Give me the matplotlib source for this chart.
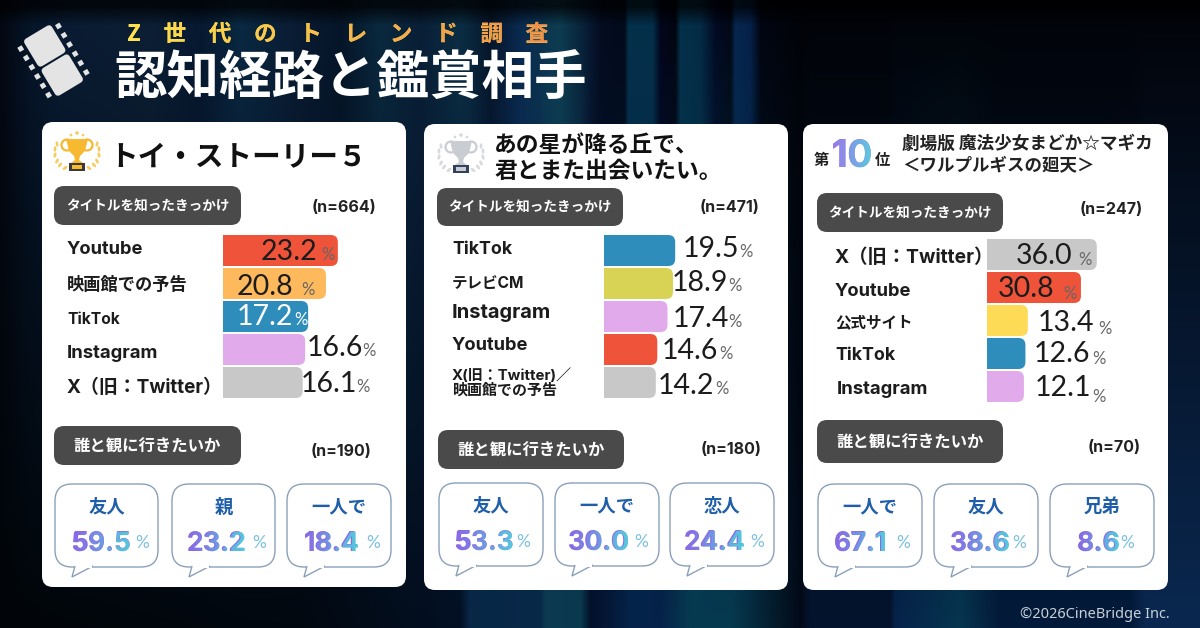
import numpy as np
from matplotlib import pyplot as plt
from matplotlib.font_manager import FontProperties
from matplotlib.patches import Circle, Ellipse, FancyBboxPatch, Polygon, Rectangle
from matplotlib.textpath import TextPath
from matplotlib.transforms import Affine2D
from matplotlib.colors import to_rgb

JP = ["Noto Sans CJK JP", "DejaVu Sans"]
LATIN = ["Inter", "Noto Sans CJK JP", "DejaVu Sans"]
NUM = ["Lato", "DejaVu Sans"]

RED, ORANGE, BLUE = "#ef5339", "#fdb95c", "#2e8dbb"
LILAC, GREY, OLIVE, YELLOW = "#e1aaeb", "#c8c8c8", "#d8d255", "#fedb56"
DARK = "#1c1c1c"

# panel 1
labels1 = ["Youtube", "映画館での予告", "TikTok", "Instagram", "X（旧：Twitter）"]
values1 = [23.2, 20.8, 17.2, 16.6, 16.1]
colors1 = [RED, ORANGE, BLUE, LILAC, GREY]
who1 = ["友人", "親", "一人で"]
who_values1 = [59.5, 23.2, 18.4]

# panel 2
labels2 = ["TikTok", "テレビCM", "Instagram", "Youtube", "X(旧：Twitter)／\n映画館での予告"]
values2 = [19.5, 18.9, 17.4, 14.6, 14.2]
colors2 = [BLUE, OLIVE, LILAC, RED, GREY]
who2 = ["友人", "一人で", "恋人"]
who_values2 = [53.3, 30.0, 24.4]

# panel 3
labels3 = ["X（旧：Twitter）", "Youtube", "公式サイト", "TikTok", "Instagram"]
values3 = [36.0, 30.8, 13.4, 12.6, 12.1]
colors3 = [GREY, RED, YELLOW, BLUE, LILAC]
who3 = ["一人で", "友人", "兄弟"]
who_values3 = [67.1, 38.6, 8.6]

sample_sizes = ["(n=664)", "(n=190)", "(n=471)", "(n=180)", "(n=247)", "(n=70)"]

# background, colour anchors across the width at the top and at the bottom
top_x = [0, 30, 60, 150, 200, 240, 300, 340, 380, 420, 460, 490, 520, 560, 590, 600, 624, 628, 652, 660,
         675, 680, 700, 715, 730, 735, 750, 760, 800, 1200]
top_c = ["#030812", "#06162a", "#0a1c34", "#0c2036", "#071a33", "#0a2a44", "#0a1c34", "#06162a", "#0a2a40",
         "#0a2038", "#0b2f45", "#061428", "#0a2a50", "#0d3c50", "#071830", "#040c20", "#020a18", "#04304a",
         "#04304a", "#02051a", "#02040e", "#04304a", "#042a44", "#020822", "#020612", "#06264e", "#06204a",
         "#010410", "#010308", "#020308"]
bot_x = [0, 300, 460, 470, 540, 545, 580, 590, 630, 660, 690, 730, 800, 810, 890, 895, 960, 1000, 1130, 1145, 1200]
bot_c = ["#010509", "#020810", "#031024", "#082848", "#082848", "#0a3a50", "#0a3a50", "#03102a", "#05234a",
         "#05234a", "#063a50", "#063a50", "#020a18", "#04142e", "#04142e", "#05234a", "#063550", "#031a3a",
         "#031a3a", "#0a2850", "#0a2850"]


def channels(xs, cols):
    rgb = np.array([to_rgb(c) for c in cols])
    grid = np.arange(1200)
    return np.stack([np.interp(grid, xs, rgb[:, i]) for i in range(3)], axis=1)


def draw_background(ax):
    top = channels(top_x, top_c)
    bot = channels(bot_x, bot_c)
    t = (np.arange(628) / 627.0)[:, None, None]
    fade = np.clip(np.arange(628) / 25.0, 0.25, 1)[:, None, None]
    img = (top[None, :, :] * (1 - t) + bot[None, :, :] * t) * fade
    ax.imshow(img, extent=(0, 1200, 628, 0), aspect="auto", zorder=0)


def rounded(ax, x0, y0, x1, y1, r, fc, ec="none", lw=0, zorder=2):
    p = FancyBboxPatch((x0, y0), x1 - x0, y1 - y0, boxstyle=f"round,pad=0,rounding_size={r}",
                       fc=fc, ec=ec, lw=lw, zorder=zorder)
    ax.add_patch(p)
    return p


def gradient_text(ax, x, y, s, size, left, right, family=LATIN, weight="bold"):
    # real text first, the gradient goes on top of it clipped to the glyph outlines
    fp = FontProperties(family=family, weight=weight)
    ax.text(x, y, s, fontsize=size, family=family, weight=weight, ha="left", va="baseline",
            color=left, zorder=5)
    path = TextPath((0, 0), s, size=size / 0.72, prop=fp)
    box = path.get_extents()
    n = 64
    ramp = np.linspace(to_rgb(left), to_rgb(right), n)[None, :, :]
    im = ax.imshow(ramp, extent=(x + box.x0, x + box.x1, y + 2, y - box.y1 - 2), aspect="auto", zorder=6)
    im.set_clip_path(path, Affine2D().scale(1, -1).translate(x, y) + ax.transData)
    return x + box.x1


def draw_film(ax):
    c = "#e4e4e4"
    rot = Affine2D().rotate_deg(-31).translate(53.5, 60.5) + ax.transData
    for cy in (-17, 17):
        p = FancyBboxPatch((-16, cy - 16), 32, 32, boxstyle="round,pad=0,rounding_size=4", fc=c, ec="none",
                           zorder=3, transform=rot)
        ax.add_patch(p)
    for side in (-22, 22):
        for k in range(6):
            ax.add_patch(Rectangle((side - 2.5, -27 + k * 10.8 - 2.5), 5, 5, fc=c, ec="none", zorder=3,
                                   transform=rot))


def draw_trophy(ax, cx, cy, col, dark, leaf):
    ax.add_patch(Circle((cx - 10, cy - 9), 5.5, fc="none", ec=col, lw=1.6, zorder=3))
    ax.add_patch(Circle((cx + 10, cy - 9), 5.5, fc="none", ec=col, lw=1.6, zorder=3))
    ax.add_patch(Polygon([(cx - 11, cy - 15), (cx + 11, cy - 15), (cx + 8, cy - 3), (cx + 3, cy + 2),
                          (cx + 2, cy + 6), (cx + 6, cy + 9), (cx - 6, cy + 9), (cx - 2, cy + 6),
                          (cx - 3, cy + 2), (cx - 8, cy - 3)], fc=col, ec="none", zorder=4))
    ax.add_patch(Rectangle((cx - 8, cy + 9), 16, 8, fc=dark, ec="none", zorder=4))
    ax.add_patch(Rectangle((cx - 5, cy + 11), 10, 3.5, fc=col, ec="none", zorder=5))
    for side in (-1, 1):
        for k, (dx, dy) in enumerate([(12, 14), (17, 11), (20, 7), (22, 1), (22, -5), (20, -10)]):
            ax.add_patch(Ellipse((cx + side * dx, cy + dy), 5.5, 2.8, angle=side * (40 + k * 12), fc=leaf,
                                 ec="none", zorder=3))
    for dx, dy, r in [(-6, -19, 1.4), (0, -21, 1.8), (6, -19, 1.4)]:
        ax.add_patch(Circle((cx + dx, cy + dy), r, fc=leaf, ec="none", zorder=3))


def draw_pill(ax, x0, y0, x1, y1, s, size):
    rounded(ax, x0, y0, x1, y1, 10, "#4a4a4a")
    ax.text((x0 + x1) / 2, (y0 + y1) / 2 + 1, s, color="white", fontsize=size, family=JP, weight="bold",
            ha="center", va="center", zorder=5)


def draw_bars(fig, x0, y0, scale, values, colors):
    pitch, h = 33, 31
    width = 190
    ax = fig.add_axes([x0 / 1200, 1 - (y0 + pitch * 5) / 628, width / 1200, pitch * 5 / 628], zorder=2)
    ax.set_xlim(0, width / scale)
    ax.set_ylim(4.5, -0.5)
    ax.axis("off")
    rows = np.arange(len(values))
    bar_h = h / pitch
    r = 7 / scale
    for i, v, c in zip(rows, values, colors):
        # box starts left of the axes so only the right corners show round
        ax.add_patch(FancyBboxPatch((-r * 2, i - bar_h / 2), v + r * 2, bar_h,
                                    boxstyle=f"round,pad=0,rounding_size={r}",
                                    mutation_aspect=scale / pitch, fc=c, ec="none"))
    return ax


def draw_values(ax, ys, xs, pct_xs, values, colors, pct_dy=None):
    for i, v in enumerate(values):
        c = colors[i]
        pc = "white" if c == "white" else "#666666"
        ax.text(xs[i], ys[i], f"{v:.1f}", fontsize=20.5, family=NUM, color=c, ha="left", va="center", zorder=6)
        dy = 3 if pct_dy is None else pct_dy[i]
        ax.text(pct_xs[i], ys[i] + dy, "%", fontsize=12, family=NUM, color=pc, ha="left", va="center", zorder=6)


def draw_bubble(ax, x0, y0, x1, y1, who, value, vx, px):
    rounded(ax, x0, y0, x1, y1, 17, "white", ec="#8aa0bb", lw=1, zorder=3)
    ax.add_patch(Polygon([(x0 + 20, y1 - 1), (x0 + 17, y1 + 10), (x0 + 38, y1 - 1)], closed=False,
                         fc="white", ec="#8aa0bb", lw=1, zorder=3))
    ax.add_patch(Rectangle((x0 + 21, y1 - 2), 16, 3, fc="white", ec="none", zorder=4))
    ax.text((x0 + x1) / 2, y0 + 23, who, color="#1f5ea8", fontsize=13.2, family=JP, weight="bold", ha="center",
            va="center", zorder=5)
    gradient_text(ax, vx, y0 + 67, f"{value:.1f}", 19, "#8a68e6", "#55c9dc")
    ax.text(px, y0 + 59, "%", color="#7cc0e0", fontsize=12.5, family=NUM, ha="left", va="center", zorder=5)


fig = plt.figure(figsize=(12, 6.28), dpi=100)
ax = fig.add_axes([0, 0, 1, 1], zorder=0)
ax.set_xlim(0, 1200)
ax.set_ylim(628, 0)
ax.autoscale(False)
ax.axis("off")
draw_background(ax)

for x0, y0, x1, y1 in [(42, 122, 406, 587), (424, 124, 788, 590), (803, 124, 1168, 590)]:
    rounded(ax, x0, y0, x1, y1, 11, "white")

top = fig.add_axes([0, 0, 1, 1], zorder=3)
top.set_xlim(0, 1200)
top.set_ylim(628, 0)
top.autoscale(False)
top.axis("off")
top.patch.set_alpha(0)

# header
draw_film(top)
gradient_text(top, 127, 41, "Z\u3000世\u3000代\u3000の\u3000ト\u3000レ\u3000ン\u3000ド\u3000調\u3000査", 16.3,
              "#ffe14d", "#f0904a", family=JP)
top.text(114, 78, "認知経路と鑑賞相手", color="white", fontsize=37.8, family=JP, weight="bold", ha="left", va="center")

# panel titles
draw_trophy(top, 77, 154, "#f6b92f", "#3a3a3a", "#f3cc62")
top.text(109, 157, "トイ・ストーリー５", color="#111111", fontsize=20.6, family=JP, weight="bold", va="center")
draw_trophy(top, 461, 156, "#c9cdd2", "#33415c", "#d6d9dd")
top.text(494, 146, "あの星が降る丘で、", color="#111111", fontsize=16.4, family=JP, weight="bold", va="center")
top.text(494, 171, "君とまた出会いたい。", color="#111111", fontsize=16.4, family=JP, weight="bold", va="center")
top.text(814, 160, "第", color="#222222", fontsize=11, family=JP, weight="bold", va="center")
gradient_text(top, 831, 167, "10", 27, "#9a78ea", "#5cc8e0")
top.text(875, 160, "位", color="#222222", fontsize=11, family=JP, weight="bold", va="center")
top.text(902, 144, "劇場版 魔法少女まどか☆マギカ", color="#222222", fontsize=12.7, family=JP, weight="bold", va="center")
top.text(902, 165, "＜ワルプルギスの廻天＞", color="#222222", fontsize=12.6, family=JP, weight="bold", va="center")

# pills and sample sizes
for x0, y0, x1, y1 in [(54, 186, 241, 225), (437, 188, 623, 226), (817, 193, 1003, 232)]:
    draw_pill(top, x0, y0, x1, y1, "タイトルを知ったきっかけ", 9.8)
for x0, y0, x1, y1 in [(54, 426, 241, 465), (438, 430, 624, 469), (817, 420, 1003, 463)]:
    draw_pill(top, x0, y0, x1, y1, "誰と観に行きたいか", 11.8)
for (x, y), s in zip([(344, 208), (341, 451), (730, 208), (731, 450), (1111, 210), (1114, 447)], sample_sizes):
    top.text(x, y, s, color="#222222", fontsize=11.5, family=LATIN, weight="bold", ha="center", va="center")

# bars
draw_bars(fig, 223, 234, 4.95, values1, colors1)
draw_bars(fig, 604, 234, 3.65, values2, colors2)
draw_bars(fig, 987, 238, 3.05, values3, colors3)

for s, y, fs in zip(labels1, [250, 285, 319, 354, 388], [13.2, 12.4, 11.2, 13.3, 13.6]):
    top.text(67, y, s, color="#1c1c1c", fontsize=fs, family=LATIN, weight="bold", va="center")
for s, y, fs in zip(labels2, [250, 283, 313, 346, 383], [12.8, 11.2, 14.5, 13.2, 10.8]):
    top.text(452, y, s, color="#1c1c1c", fontsize=fs, family=LATIN, weight="bold", va="center", linespacing=0.95)
for s, y, x, fs in zip(labels3, [258, 291, 323, 355, 390], [835, 835, 835, 835, 837], [13.9, 13.2, 11.2, 12.8, 13.3]):
    top.text(x, y, s, color="#1c1c1c", fontsize=fs, family=LATIN, weight="bold", va="center")

draw_values(top, [252, 287, 317, 348, 384], [261, 237, 237, 307, 301], [321, 301, 294, 362, 356], values1,
            [DARK, DARK, "white", DARK, DARK])
draw_values(top, [249, 283, 319, 351, 386], [683, 672, 673, 662, 658], [739, 728, 728, 719, 715], values2,
            [DARK] * 5)
draw_values(top, [256, 289, 323, 354, 388], [1016, 998, 1038, 1034, 1035], [1078, 1063, 1098, 1092, 1092], values3,
            [DARK] * 5, pct_dy=[4, 5, 6, 5, 9])

# bubbles
for x0, x1, w, v, vx, px in zip([55, 172, 287], [158, 275, 391], who1, who_values1, [71, 187, 304], [135, 252, 366]):
    draw_bubble(top, x0, 484, x1, 567, w, v, vx, px)
for x0, x1, w, v, vx, px in zip([439, 555, 670], [543, 659, 774], who2, who_values2, [454, 568, 684], [516, 634, 750]):
    draw_bubble(top, x0, 483, x1, 566, w, v, vx, px)
for x0, x1, w, v, vx, px in zip([818, 934, 1050], [922, 1038, 1154], who3, who_values3, [834, 950, 1077], [896, 1012, 1120]):
    draw_bubble(top, x0, 484, x1, 567, w, v, vx, px)

top.text(1170, 614, "©2026CineBridge Inc.", color="#c8d0d8", fontsize=10.5, family=["Noto Sans", "DejaVu Sans"],
         ha="right", va="center")

fig.savefig("out.png", dpi=100)
